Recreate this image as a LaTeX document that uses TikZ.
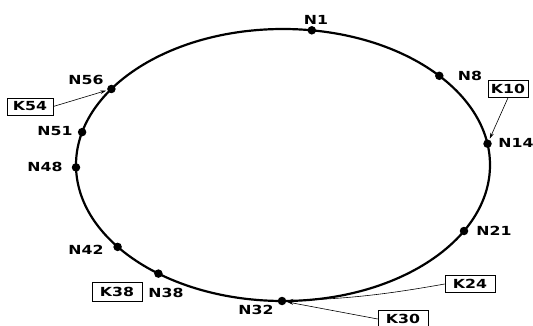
\documentclass[tikz,border=0pt]{standalone}
\usepackage{fontspec}
\setmainfont{DejaVu Sans}
\usepackage{graphicx}
\usepackage{tikz}
\usetikzlibrary{arrows.meta}

\newcommand{\wide}[1]{\scalebox{1.26}[1]{#1}}

\begin{document}
\begin{tikzpicture}[x=1pt,y=-1pt,
    font=\fontsize{12.5}{14}\selectfont\bfseries,
    dot/.style={circle,fill=black,inner sep=0pt,minimum size=8.5pt},
    lbl/.style={inner sep=0pt},
    keybox/.style={draw,line width=0.6pt,minimum width=46pt,minimum height=17pt,inner sep=1pt},
    ptr/.style={-{Stealth[length=6pt,width=3.5pt]},line width=0.6pt,shorten >=1pt}]
      \useasboundingbox (0,0) rectangle (533,326);
      \draw[line width=2.2pt] (283,165) ellipse [x radius=207pt, y radius=136pt];

      \node [dot] (1) at (311.8,30.3) {};
      \node [dot] (8) at (439.3,75.8) {};
      \node [dot] (14) at (487.5,143.7) {};
      \node [dot] (21) at (464,231) {};
      \node [dot] (32) at (282,301) {};
      \node [dot] (38) at (158.4,273.6) {};
      \node [dot] (42) at (117.6,246.9) {};
      \node [dot] (48) at (76,167.4) {};
      \node [dot] (51) at (82.1,132.1) {};
      \node [dot] (56) at (111.4,89) {};

      \node [lbl] (l1) at (316,20) {\wide{N1}};
      \node [lbl] (l8) at (470,76) {\wide{N8}};
      \node [lbl] (l14) at (516,143) {\wide{N14}};
      \node [lbl] (l21) at (494,231) {\wide{N21}};
      \node [lbl] (l32) at (256,310) {\wide{N32}};
      \node [lbl] (l38) at (166,293) {\wide{N38}};
      \node [lbl] (l42) at (86,250) {\wide{N42}};
      \node [lbl] (l48) at (45,167) {\wide{N48}};
      \node [lbl] (l51) at (55,131) {\wide{N51}};
      \node [lbl] (l56) at (86,80) {\wide{N56}};

      \node [keybox] (k54) at (30,106.5) {\wide{K54}};
      \node [keybox,minimum width=40pt] (k10) at (508,89) {\wide{K10}};
      \node [keybox,minimum width=50pt,minimum height=19pt] (k38) at (117,292) {\wide{K38}};
      \node [keybox,minimum width=50pt] (k24) at (470,284) {\wide{K24}};
      \node [keybox,minimum width=50pt] (k30) at (403,319) {\wide{K30}};

      \draw[ptr] (k54.east) -- (56);
      \draw[ptr] (k10.south) -- (14);
      \draw[ptr] (k24.west) to[bend left=4] (32);
      \draw[ptr] (k30.west) -- (32);
    \end{tikzpicture}
\end{document}
